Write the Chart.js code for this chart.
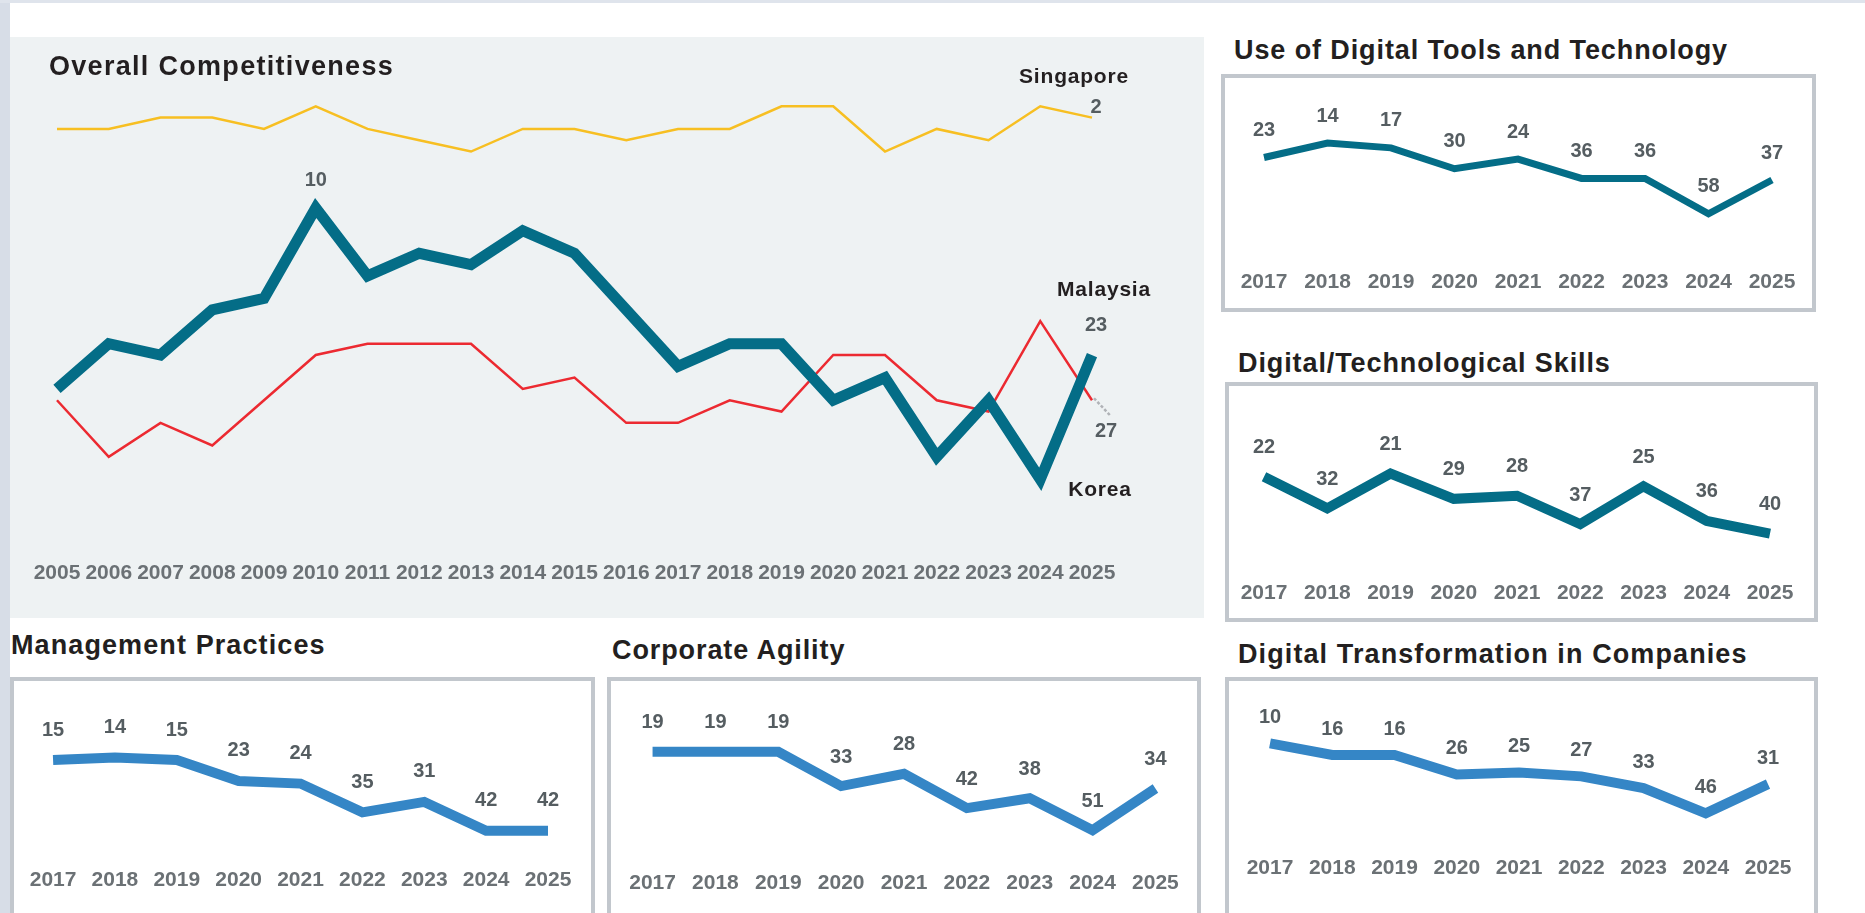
<!DOCTYPE html>
<html lang="en">
<head>
    <meta charset="UTF-8">
    <title>Competitiveness Dashboard</title>
    <style>
        * {
            box-sizing          : border-box;
            margin              : 0;
        }
        html, body {
            width               : 1865px;
            height              : 913px;
            overflow            : hidden;
            background-color    : #ffffff;
            font-family         : "Liberation Sans", Arial, sans-serif;
        }
        #edgeLeft   { position: absolute; left: 0; top: 0; width: 10px; height: 913px; background-color: #d7dde7; }
        #edgeTop    { position: absolute; left: 0; top: 0; width: 1865px; height: 3px; background-color: #dfe4ec; }

        #overall {
            position            : absolute;
            left                : 10px;
            top                 : 37px;
            width               : 1194px;
            height              : 581px;
            background-color    : #eef2f3;
        }
        #overall canvas { position: absolute; left: 0; top: 0; }

        .title {
            position            : absolute;
            font-weight         : bold;
            font-size           : 27px;
            line-height         : 1;
            letter-spacing      : 0.9px;
            color               : #231f20;
            white-space         : nowrap;
        }
        .box {
            position            : absolute;
            border              : 4px solid #c2c7cd;
            background-color    : #ffffff;
        }
        canvas { display: block; }
    </style>
</head>
<body>
    <div id="edgeLeft"></div>
    <div id="edgeTop"></div>

    <div id="overall">
        <canvas id="overallChart" width="1194" height="581"></canvas>
        <div class="title" style="left:39px; top:16px; letter-spacing:1.3px;">Overall Competitiveness</div>
    </div>

    <div class="title" style="left:1234px; top:37px;">Use of Digital Tools and Technology</div>
    <div class="box" style="left:1221px; top:74px; width:595px; height:238px;">
        <canvas id="toolsChart" width="587" height="230"></canvas>
    </div>

    <div class="title" style="left:1238px; top:350px;">Digital/Technological Skills</div>
    <div class="box" style="left:1225px; top:382px; width:593px; height:240px;">
        <canvas id="skillsChart" width="585" height="232"></canvas>
    </div>

    <div class="title" style="left:1238px; top:641px; letter-spacing:1.1px;">Digital Transformation in Companies</div>
    <div class="box" style="left:1225px; top:677px; width:593px; height:250px;">
        <canvas id="transChart" width="585" height="242"></canvas>
    </div>

    <div class="title" style="left:11px; top:632px; letter-spacing:1.1px;">Management Practices</div>
    <div class="box" style="left:10px; top:677px; width:585px; height:250px;">
        <canvas id="mgmtChart" width="577" height="242"></canvas>
    </div>

    <div class="title" style="left:612px; top:637px;">Corporate Agility</div>
    <div class="box" style="left:607px; top:677px; width:594px; height:250px;">
        <canvas id="agileChart" width="586" height="242"></canvas>
    </div>

    <script src="https://cdn.jsdelivr.net/npm/chart.js@4.4.1/dist/chart.umd.min.js"></script>
    <script>
        "use strict";

        // ---- data (ranks, lower is better) ----
        const overallYears          = ["2005","2006","2007","2008","2009","2010","2011","2012","2013","2014",
                                       "2015","2016","2017","2018","2019","2020","2021","2022","2023","2024","2025"]
        const seriesNames           = ["Malaysia", "Korea", "Singapore"]
        const malaysia              = [26, 22, 23, 19, 18, 10, 16, 14, 15, 12, 14, 19, 24, 22, 22, 27, 25, 32, 27, 34, 23]
        const korea                 = [27, 32, 29, 31, 27, 23, 22, 22, 22, 26, 25, 29, 29, 27, 28, 23, 23, 27, 28, 20, 27]
        const singapore             = [3, 3, 2, 2, 3, 1, 3, 4, 5, 3, 3, 4, 3, 3, 1, 1, 5, 3, 4, 1, 2]

        const subYears              = ["2017","2018","2019","2020","2021","2022","2023","2024","2025"]
        const digitalTools          = [23, 14, 17, 30, 24, 36, 36, 58, 37]
        const digitalSkills         = [22, 32, 21, 29, 28, 37, 25, 36, 40]
        const digitalTransformation = [10, 16, 16, 26, 25, 27, 33, 46, 31]
        const managementPractices   = [15, 14, 15, 23, 24, 35, 31, 42, 42]
        const corporateAgility      = [19, 19, 19, 33, 28, 42, 38, 51, 34]

        const TEAL      = "#046d87"
        const BLUE      = "#3586c6"
        const YELLOW    = "#f7bf22"
        const RED       = "#ec2a31"
        const NUM_GREY  = "#555d61"
        const YEAR_GREY = "#6b7175"
        const INK       = "#231f20"
        const FONT      = "'Liberation Sans', Arial, sans-serif"

        Chart.defaults.font.family = FONT
        Chart.defaults.animation   = false

        // draws value / name labels next to data points, using the chart's own point positions
        const pointLabels = {
            id: 'pointLabels',
            afterDatasetsDraw(chart, args, opts) {
                const ctx = chart.ctx
                ;(opts.leaders || []).forEach(l => {
                    const pt = chart.getDatasetMeta(l.dataset).data[l.index]
                    ctx.save()
                    ctx.strokeStyle = l.color
                    ctx.lineWidth   = l.width
                    ctx.setLineDash(l.dash)
                    ctx.beginPath()
                    ctx.moveTo(pt.x + l.x1, pt.y + l.y1)
                    ctx.lineTo(pt.x + l.x2, pt.y + l.y2)
                    ctx.stroke()
                    ctx.restore()
                })
                ;(opts.items || []).forEach(item => {
                    const pt = chart.getDatasetMeta(item.dataset).data[item.index]
                    ctx.save()
                    ctx.font         = item.font || ("bold 20px " + FONT)
                    ctx.fillStyle    = item.color || NUM_GREY
                    ctx.textAlign    = 'center'
                    ctx.textBaseline = 'middle'
                    if ('letterSpacing' in ctx) ctx.letterSpacing = item.spacing || '0px'
                    ctx.fillText(item.text, pt.x + (item.dx || 0), pt.y + (item.dy || 0))
                    ctx.restore()
                })
            }
        }

        function yearAxis(tickPad) {
            return {
                grid   : { display: false, drawTicks: false },
                border : { display: false },
                ticks  : {
                    autoSkip    : false,
                    maxRotation : 0,
                    padding     : tickPad,
                    color       : YEAR_GREY,
                    font        : { size: 21, weight: 'bold' }
                }
            }
        }

        // ---- overall competitiveness ----
        const nameFont = "bold 21px " + FONT
        const last     = overallYears.length - 1

        new Chart(document.getElementById('overallChart'), {
            type: 'line',
            data: {
                labels: overallYears,
                datasets: [
                    { label: seriesNames[0], data: malaysia,  borderColor: TEAL,   borderWidth: 11 },
                    { label: seriesNames[1], data: korea,     borderColor: RED,    borderWidth: 2.5 },
                    { label: seriesNames[2], data: singapore, borderColor: YELLOW, borderWidth: 2.5 }
                ]
            },
            options: {
                responsive: false,
                layout: { padding: { left: 47, right: 112, top: 58, bottom: 19 } },
                elements: {
                    point: { radius: 0, hoverRadius: 0 },
                    line:  { tension: 0, borderJoinStyle: 'miter' }
                },
                plugins: {
                    legend:  { display: false },
                    tooltip: { enabled: false },
                    pointLabels: {
                        leaders: [
                            { dataset: 1, index: last, x1: 2, y1: -2, x2: 18, y2: 15, color: '#b0b3b7', width: 2.5, dash: [3, 2] }
                        ],
                        items: [
                            { dataset: 0, index: 5,    text: String(malaysia[5]),     dx: 0,   dy: -28 },
                            { dataset: 0, index: last, text: String(malaysia[last]),  dx: 4,   dy: -30 },
                            { dataset: 0, index: last, text: seriesNames[0],          dx: 12,  dy: -65, font: nameFont, color: INK, spacing: '0.8px' },
                            { dataset: 1, index: last, text: String(korea[last]),     dx: 14,  dy: 31 },
                            { dataset: 1, index: last, text: seriesNames[1],          dx: 8,   dy: 90,  font: nameFont, color: INK, spacing: '0.8px' },
                            { dataset: 2, index: last, text: String(singapore[last]), dx: 4,   dy: -10 },
                            { dataset: 2, index: last, text: seriesNames[2],          dx: -18, dy: -40, font: nameFont, color: INK, spacing: '0.8px' }
                        ]
                    }
                },
                scales: {
                    x: yearAxis(13.3),
                    y: { display: false, reverse: true, min: 0, max: 40 }
                }
            },
            plugins: [pointLabels]
        });

        // ---- small panels ----
        function smallChart(id, values, color, lineWidth, padding, tickPad, maxRank, lift) {
            return new Chart(document.getElementById(id), {
                type: 'line',
                data: {
                    labels: subYears,
                    datasets: [{ data: values, borderColor: color, borderWidth: lineWidth }]
                },
                options: {
                    responsive: false,
                    layout: { padding: padding },
                    elements: {
                        point: { radius: 0, hoverRadius: 0 },
                        line:  { tension: 0, borderJoinStyle: 'miter' }
                    },
                    plugins: {
                        legend:  { display: false },
                        tooltip: { enabled: false },
                        pointLabels: {
                            items: values.map((v, i) => ({ dataset: 0, index: i, text: String(v), dy: -lift }))
                        }
                    },
                    scales: {
                        x: yearAxis(tickPad),
                        y: { display: false, reverse: true, min: 0, max: maxRank }
                    }
                },
                plugins: [pointLabels]
            })
        }

        smallChart('toolsChart',  digitalTools,          TEAL, 7,  { left: 39, right: 40, top: 42.5, bottom: 1 },  12.3, 85, 27)
        smallChart('skillsChart', digitalSkills,         TEAL, 10, { left: 35, right: 44, top: 21.4, bottom: 3 },  9.2,  52, 29)
        smallChart('transChart',  digitalTransformation, BLUE, 10, { left: 41, right: 46, top: 42.9, bottom: 27.5 }, 14.9, 60, 26)
        smallChart('mgmtChart',   managementPractices,   BLUE, 10, { left: 33, right: 43, top: 39.7, bottom: 14.7 }, 15.7, 50, 30)
        smallChart('agileChart',  corporateAgility,      BLUE, 10, { left: 36, right: 40, top: 24.2, bottom: 9.2 },  18.2, 60, 29)
    </script>
</body>
</html>
